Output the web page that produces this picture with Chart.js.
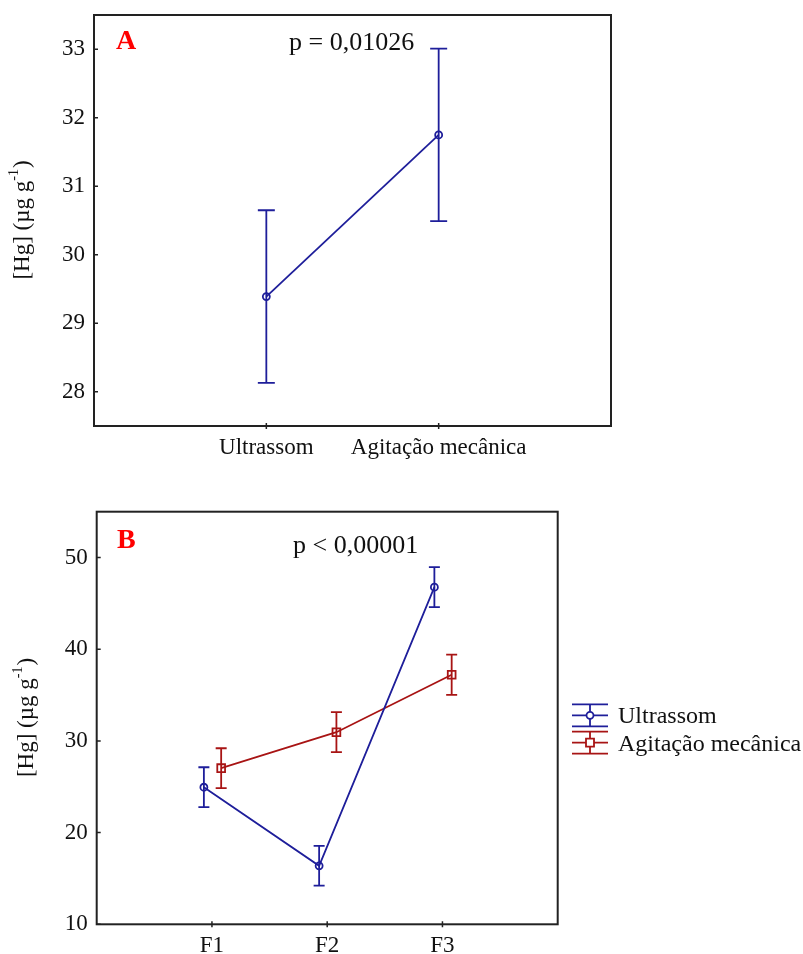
<!DOCTYPE html>
<html>
<head>
<meta charset="utf-8">
<script src="https://cdn.jsdelivr.net/npm/chart.js@4.4.0/dist/chart.umd.min.js"></script>
<style>
  body { margin: 0; background: #fff; }
  #wrapA { position: absolute; left: 0; top: 0; width: 803px; height: 470px; }
  #wrapB { position: absolute; left: 0; top: 470px; width: 803px; height: 484px; }
</style>
</head>
<body>
<div id="wrapA"><canvas id="chartA"></canvas></div>
<div id="wrapB"><canvas id="chartB"></canvas></div>
<script>
// Panel A: total Hg per extraction method (mean and error)
var methodLabels = ['Ultrassom', 'Agitação mecânica'];
var methodMeans = [29.39, 31.75];
var methodErrors = [1.26, 1.26];
var panelATicks = [28, 29, 30, 31, 32, 33];

// Panel B: Hg per fraction for each method
var fractionLabels = ['F1', 'F2', 'F3'];
var ultrassomMeans = [24.95, 16.38, 46.77];
var ultrassomErrors = [2.18, 2.17, 2.18];
var agitacaoMeans = [27.03, 30.95, 37.22];
var agitacaoErrors = [2.17, 2.18, 2.2];
var panelBTicks = [10, 20, 30, 40, 50];

var BLUE = '#1e1e9a';
var RED = '#a81414';
var FONT = '"Liberation Serif", "Times New Roman", serif';

// turn category means into {x, y} points, shifted sideways a little
function toPoints(means, shift) {
    return means.map(function(v, i) {
        return { x: i + 1 + shift, y: v };
    });
}

// vertical error bars with caps, read from dataset.errorBars
var errorBarPlugin = {
    id: 'errorBars',
    beforeDatasetsDraw: function(chart) {
        var ctx = chart.ctx;
        var xs = chart.scales.x, ys = chart.scales.y;
        chart.data.datasets.forEach(function(ds) {
            if (!ds.errorBars) return;
            ctx.save();
            ctx.strokeStyle = ds.borderColor;
            ctx.lineWidth = 1.8;
            var half = ds.capWidth / 2;
            ds.data.forEach(function(pt, i) {
                var x = xs.getPixelForValue(pt.x);
                var top = ys.getPixelForValue(pt.y + ds.errorBars[i]);
                var bottom = ys.getPixelForValue(pt.y - ds.errorBars[i]);
                ctx.beginPath();
                ctx.moveTo(x, top); ctx.lineTo(x, bottom);
                ctx.moveTo(x - half, top); ctx.lineTo(x + half, top);
                ctx.moveTo(x - half, bottom); ctx.lineTo(x + half, bottom);
                ctx.stroke();
            });
            ctx.restore();
        });
    }
};

// box around the plot area plus short inner tick marks
var framePlugin = {
    id: 'frame',
    afterDraw: function(chart) {
        var ctx = chart.ctx, a = chart.chartArea;
        ctx.save();
        ctx.strokeStyle = '#222';
        ctx.lineWidth = 2;
        ctx.strokeRect(a.left, a.top, a.right - a.left, a.bottom - a.top);
        ctx.lineWidth = 1.5;
        ctx.beginPath();
        chart.scales.y.ticks.forEach(function(t) {
            var y = chart.scales.y.getPixelForValue(t.value);
            ctx.moveTo(a.left, y); ctx.lineTo(a.left + 4, y);
        });
        chart.scales.x.ticks.forEach(function(t) {
            var x = chart.scales.x.getPixelForValue(t.value);
            ctx.moveTo(x, a.bottom - 3); ctx.lineTo(x, a.bottom + 3);
        });
        ctx.stroke();
        ctx.restore();
    }
};

// panel letter, p-value, rotated unit title and (optionally) legend
var textPlugin = {
    id: 'panelText',
    afterDraw: function(chart) {
        var o = chart.options.plugins.panelText;
        var ctx = chart.ctx, a = chart.chartArea;
        ctx.save();
        ctx.textBaseline = 'alphabetic';
        ctx.textAlign = 'left';
        ctx.fillStyle = '#ff0000';
        ctx.font = 'bold 28px ' + FONT;
        ctx.fillText(o.letter, o.letterX, o.letterY);
        ctx.fillStyle = '#111';
        ctx.font = '26px ' + FONT;
        ctx.fillText(o.pText, o.pX, o.pY);

        // y title: [Hg] (µg g^-1)
        ctx.translate(o.titleX, (a.top + a.bottom) / 2);
        ctx.rotate(-Math.PI / 2);
        var main = '[Hg] (µg g', sup = '-1', end = ')';
        ctx.font = '23px ' + FONT;
        var w1 = ctx.measureText(main).width;
        var w3 = ctx.measureText(end).width;
        ctx.font = '14px ' + FONT;
        var w2 = ctx.measureText(sup).width;
        var x0 = -(w1 + w2 + w3) / 2;
        ctx.textBaseline = 'middle';
        ctx.font = '23px ' + FONT;
        ctx.fillText(main, x0, 0);
        ctx.font = '14px ' + FONT;
        ctx.fillText(sup, x0 + w1, -9);
        ctx.font = '23px ' + FONT;
        ctx.fillText(end, x0 + w1 + w2 + 1, 0);
        ctx.restore();

        if (o.legend) drawLegend(chart, o.legend);
    }
};

function drawLegend(chart, lg) {
    var ctx = chart.ctx;
    ctx.save();
    chart.data.datasets.forEach(function(ds, i) {
        var cy = lg.y + i * lg.rowGap;
        ctx.strokeStyle = ds.borderColor;
        ctx.lineWidth = 1.8;
        ctx.beginPath();
        [-11, 0, 11].forEach(function(dy) {
            ctx.moveTo(lg.x, cy + dy); ctx.lineTo(lg.x + 36, cy + dy);
        });
        ctx.moveTo(lg.x + 18, cy - 11); ctx.lineTo(lg.x + 18, cy + 11);
        ctx.stroke();
        ctx.fillStyle = '#fff';
        ctx.beginPath();
        if (ds.pointStyle === 'rect') {
            ctx.rect(lg.x + 14, cy - 4, 8, 8);
        } else {
            ctx.arc(lg.x + 18, cy, 3.5, 0, Math.PI * 2);
        }
        ctx.fill();
        ctx.stroke();
        ctx.fillStyle = '#111';
        ctx.font = '24px ' + FONT;
        ctx.textBaseline = 'alphabetic';
        ctx.fillText(ds.label, lg.x + 46, cy + 8);
    });
    ctx.restore();
}

function makeScales(xMax, labels, yMin, yMax, yTicks, yWidth, xHeight) {
    return {
        x: {
            type: 'linear', min: 0, max: xMax,
            grid: { display: false, drawTicks: false },
            border: { display: false },
            afterBuildTicks: function(axis) {
                axis.ticks = labels.map(function(l, i) { return { value: i + 1 }; });
            },
            afterFit: function(axis) {
                axis.height = xHeight;
                axis.paddingLeft = 0;
                axis.paddingRight = 0;
            },
            ticks: {
                autoSkip: false, maxRotation: 0, padding: 8, color: '#111',
                font: { family: FONT, size: 23 },
                callback: function(v) { return labels[v - 1]; }
            }
        },
        y: {
            min: yMin, max: yMax,
            grid: { display: false, drawTicks: false },
            border: { display: false },
            afterBuildTicks: function(axis) {
                axis.ticks = yTicks.map(function(v) { return { value: v }; });
            },
            afterFit: function(axis) {
                axis.width = yWidth;
                axis.paddingTop = 0;
                axis.paddingBottom = 0;
            },
            ticks: {
                padding: 9, color: '#111',
                font: { family: FONT, size: 23 }
            }
        }
    };
}

new Chart(document.getElementById('chartA'), {
    type: 'scatter',
    data: {
        datasets: [{
            label: 'Hg',
            data: toPoints(methodMeans, 0),
            errorBars: methodErrors,
            capWidth: 17,
            showLine: true,
            borderColor: BLUE,
            borderWidth: 1.8,
            pointStyle: 'circle',
            pointRadius: 3.5,
            pointBorderWidth: 1.8,
            pointBackgroundColor: 'rgba(255,255,255,0)',
            pointBorderColor: BLUE
        }]
    },
    options: {
        responsive: true,
        maintainAspectRatio: false,
        animation: false,
        layout: { padding: { left: 0, top: 15, right: 192, bottom: 0 } },
        scales: makeScales(3, methodLabels, 27.5, 33.5, panelATicks, 94, 44),
        plugins: {
            legend: { display: false },
            tooltip: { enabled: false },
            panelText: {
                letter: 'A', letterX: 116, letterY: 49,
                pText: 'p = 0,01026', pX: 289, pY: 50,
                titleX: 23
            }
        }
    },
    plugins: [errorBarPlugin, framePlugin, textPlugin]
});

new Chart(document.getElementById('chartB'), {
    type: 'scatter',
    data: {
        datasets: [{
            label: 'Ultrassom',
            data: toPoints(ultrassomMeans, -0.07),
            errorBars: ultrassomErrors,
            capWidth: 11,
            showLine: true,
            borderColor: BLUE,
            borderWidth: 1.8,
            pointStyle: 'circle',
            pointRadius: 3.5,
            pointBorderWidth: 1.8,
            pointBackgroundColor: 'rgba(255,255,255,0)',
            pointBorderColor: BLUE
        }, {
            label: 'Agitação mecânica',
            data: toPoints(agitacaoMeans, 0.08),
            errorBars: agitacaoErrors,
            capWidth: 11,
            showLine: true,
            borderColor: RED,
            borderWidth: 1.8,
            pointStyle: 'rect',
            pointRadius: 5.5,
            pointBorderWidth: 1.8,
            pointBackgroundColor: 'rgba(255,255,255,0)',
            pointBorderColor: RED
        }]
    },
    options: {
        responsive: true,
        maintainAspectRatio: false,
        animation: false,
        layout: { padding: { left: 0, top: 41.7, right: 245.3, bottom: 0 } },
        scales: makeScales(4, fractionLabels, 10, 55, panelBTicks, 96.7, 29.7),
        plugins: {
            legend: { display: false },
            tooltip: { enabled: false },
            panelText: {
                letter: 'B', letterX: 117, letterY: 77.7,
                pText: 'p < 0,00001', pX: 293, pY: 83,
                titleX: 27,
                legend: { x: 572, y: 245.3, rowGap: 27.4 }
            }
        }
    },
    plugins: [errorBarPlugin, framePlugin, textPlugin]
});
</script>
</body>
</html>
